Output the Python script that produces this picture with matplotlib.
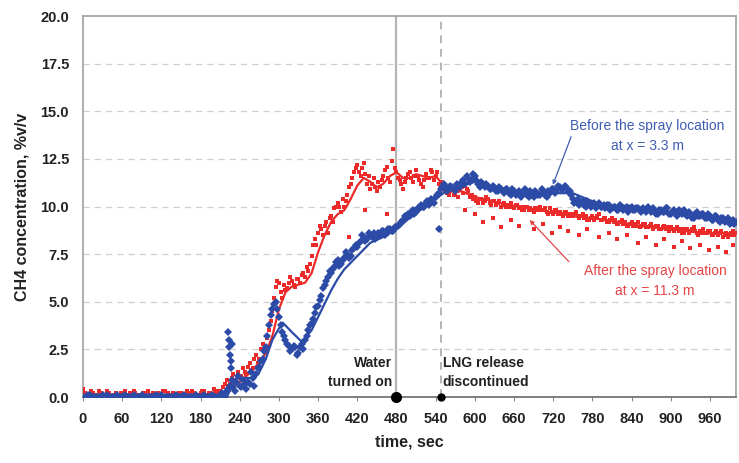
import numpy as np
import matplotlib
matplotlib.use("Agg")
import matplotlib.pyplot as plt

plt.rcParams['font.family'] = ['Liberation Sans', 'DejaVu Sans']

# measured CH4 readings, two interleaved sample sets (every 5 s, offset by 2.5 s)
t_a = np.arange(0, 1001, 5)
t_b = np.arange(2.5, 1000, 5)

blue_a = [
    0.0, 0.0, 0.1, 0.0, 0.0, 0.0, 0.1, 0.0, 0.0, 0.0,
    0.0, 0.0, 0.0, 0.1, 0.0, 0.0, 0.0, 0.0, 0.1, 0.0,
    0.0, 0.0, 0.0, 0.0, 0.1, 0.0, 0.0, 0.0, 0.0, 0.0,
    0.0, 0.1, 0.0, 0.0, 0.0, 0.0, 0.0, 0.1, 0.0, 0.0,
    0.0, 0.0, 0.0, 0.1, 0.3, 0.6, 0.5, 0.8, 0.6, 0.9,
    0.4, 0.7, 1.0, 1.2, 1.6, 2.0, 2.6, 3.8, 4.6, 5.0,
    4.2, 3.4, 3.0, 2.7, 2.5, 2.6, 2.3, 2.8, 3.0, 3.5,
    3.9, 4.4, 4.8, 5.3, 5.9, 6.3, 6.5, 6.8, 7.2, 7.0,
    7.3, 7.5, 7.4, 7.8, 7.9, 8.2, 8.4, 8.3, 8.5, 8.6,
    8.4, 8.5, 8.7, 8.6, 8.8, 8.7, 8.9, 9.1, 9.3, 9.4,
    9.5, 9.8, 9.7, 9.9, 10.0, 10.2, 10.1, 10.3, 10.5, 10.7,
    11.0, 11.1, 10.9, 11.0, 10.8, 11.1, 11.3, 11.2, 11.5, 11.4,
    11.6, 11.2, 11.3, 11.0, 11.1, 10.9, 11.0, 10.8, 10.9, 10.7,
    10.9, 10.6, 10.8, 10.7, 10.5, 10.7, 10.6, 10.8, 10.5, 10.7,
    10.6, 10.8, 10.5, 10.7, 10.9, 10.8, 11.0, 10.9, 11.0, 10.8,
    10.4, 10.3, 10.1, 10.3, 10.0, 10.2, 10.1, 9.9, 10.2, 10.0,
    9.9, 10.1, 9.9, 10.0, 9.8, 10.0, 9.9, 9.7, 10.0, 9.8,
    9.9, 9.7, 9.8, 10.0, 9.7, 9.8, 9.6, 9.8, 9.7, 9.9,
    9.6, 9.8, 9.5, 9.7, 9.8, 9.5, 9.6, 9.4, 9.7, 9.5,
    9.6, 9.4, 9.5, 9.3, 9.5, 9.2, 9.4, 9.3, 9.1, 9.3,
    9.2,
]

blue_b = [
    0.0, 0.1, 0.0, 0.0, 0.0, 0.0, 0.0, 0.1, 0.0, 0.0,
    0.1, 0.0, 0.0, 0.0, 0.0, 0.1, 0.0, 0.0, 0.0, 0.0,
    0.0, 0.0, 0.1, 0.0, 0.0, 0.0, 0.0, 0.0, 0.1, 0.0,
    0.0, 0.0, 0.0, 0.0, 0.1, 0.0, 0.0, 0.0, 0.0, 0.1,
    0.0, 0.0, 0.2, 0.0, 0.4, 0.9, 0.3, 1.1, 0.5, 0.7,
    0.8, 1.3, 0.6, 1.5, 1.9, 2.4, 3.2, 4.3, 4.9, 4.6,
    3.8, 3.2, 2.8, 2.4, 2.7, 2.2, 2.6, 2.5, 3.2, 3.8,
    4.1, 4.7, 5.1, 5.7, 6.1, 6.6, 6.7, 7.1, 6.9, 7.2,
    7.6, 7.3, 7.7, 8.0, 8.1, 8.5, 8.2, 8.6, 8.4, 8.3,
    8.6, 8.7, 8.5, 8.8, 8.7, 8.9, 9.0, 9.2, 9.5, 9.6,
    9.7, 9.6, 9.9, 10.1, 10.0, 10.3, 10.4, 10.2, 10.6, 10.9,
    11.2, 10.8, 11.1, 10.9, 11.2, 11.0, 11.4, 11.6, 11.3, 11.7,
    11.4, 11.0, 11.2, 11.2, 10.9, 11.1, 10.8, 11.0, 10.8, 10.9,
    10.7, 10.9, 10.6, 10.8, 10.7, 10.9, 10.5, 10.6, 10.8, 10.6,
    10.9, 10.6, 10.8, 10.9, 10.7, 11.1, 10.9, 11.1, 10.8, 10.6,
    10.2, 10.4, 10.2, 10.1, 10.3, 10.0, 10.2, 10.1, 10.0, 10.1,
    10.1, 9.8, 10.0, 9.8, 10.1, 9.8, 10.0, 9.9, 9.8, 9.9,
    9.8, 9.9, 9.7, 9.8, 9.9, 9.6, 9.8, 9.7, 9.9, 9.6,
    9.7, 9.6, 9.8, 9.6, 9.6, 9.7, 9.4, 9.6, 9.5, 9.6,
    9.4, 9.6, 9.3, 9.5, 9.3, 9.4, 9.2, 9.4, 9.2, 9.1,
]

red_a = [
    0.4, 0.1, 0.0, 0.2, 0.1, 0.3, 0.0, 0.1, 0.2, 0.0,
    0.2, 0.1, 0.0, 0.3, 0.1, 0.0, 0.2, 0.1, 0.0, 0.2,
    0.3, 0.1, 0.0, 0.2, 0.1, 0.3, 0.2, 0.0, 0.1, 0.0,
    0.2, 0.1, 0.3, 0.1, 0.2, 0.0, 0.2, 0.3, 0.1, 0.2,
    0.4, 0.1, 0.3, 0.5, 0.9, 0.7, 1.2, 0.8, 1.0, 1.5,
    1.2, 1.8, 1.5, 2.2, 2.0, 2.8, 2.6, 3.5, 4.5, 5.8,
    6.0, 5.2, 5.6, 6.0, 6.1, 5.8, 6.2, 6.4, 6.3, 6.6,
    7.4, 8.3, 8.6, 8.8, 9.0, 8.6, 9.5, 9.9, 10.2, 9.7,
    10.0, 10.6, 11.2, 11.8, 12.2, 11.6, 12.3, 11.2, 10.9, 11.5,
    10.8, 11.0, 11.6, 12.1, 11.3, 13.0, 11.8, 11.4, 10.9, 11.5,
    11.8, 11.3, 11.9, 11.4, 11.0, 11.7, 11.5, 11.8, 11.6, 11.2,
    11.0, 10.8, 10.6, 10.9, 10.7, 10.5, 11.0, 11.1, 10.8, 10.6,
    10.5, 10.2, 10.4, 10.3, 10.4, 10.1, 10.3, 10.2, 10.0, 10.2,
    10.1, 10.2, 9.9, 10.1, 10.0, 9.8, 10.0, 9.9, 9.7, 9.9,
    10.0, 9.8, 9.7, 9.9, 9.6, 9.8, 9.7, 9.5, 9.7, 9.6,
    9.5, 9.7, 9.4, 9.6, 9.5, 9.3, 9.5, 9.4, 9.6, 9.3,
    9.4, 9.2, 9.4, 9.3, 9.1, 9.3, 9.2, 9.0, 9.2, 9.1,
    9.2, 9.0, 9.1, 8.9, 9.1, 8.9, 9.0, 8.8, 9.0, 8.9,
    8.9, 8.7, 8.9, 8.8, 8.6, 8.8, 8.7, 8.9, 8.6, 8.7,
    8.8, 8.6, 8.7, 8.5, 8.7, 8.6, 8.4, 8.6, 8.5, 8.7,
    8.6,
]

red_b = [
    0.2, 0.0, 0.3, 0.1, 0.0, 0.2, 0.1, 0.3, 0.0, 0.1,
    0.0, 0.2, 0.1, 0.0, 0.2, 0.3, 0.0, 0.1, 0.2, 0.0,
    0.1, 0.2, 0.0, 0.1, 0.3, 0.0, 0.1, 0.2, 0.0, 0.2,
    0.1, 0.0, 0.2, 0.3, 0.0, 0.1, 0.3, 0.1, 0.2, 0.1,
    0.2, 0.3, 0.1, 0.7, 0.6, 1.0, 0.9, 1.3, 1.1, 1.3,
    1.6, 1.4, 2.0, 1.8, 2.5, 2.4, 3.1, 4.0, 5.2, 6.1,
    5.5, 5.9, 5.7, 6.3, 5.9, 6.2, 6.0, 6.5, 6.8, 7.0,
    8.0, 8.0, 9.0, 8.5, 9.2, 9.4, 9.2, 10.0, 10.0, 10.4,
    10.3, 11.0, 11.5, 12.0, 11.8, 12.0, 11.7, 11.6, 11.2, 11.0,
    11.3, 11.4, 11.9, 11.5, 12.4, 12.0, 11.5, 11.2, 11.3, 11.7,
    11.5, 11.6, 11.6, 11.2, 11.4, 11.5, 11.9, 11.4, 11.8, 11.3,
    10.9, 10.7, 10.8, 10.6, 10.8, 10.9, 10.7, 10.9, 10.5, 10.4,
    10.3, 10.4, 10.2, 10.5, 10.2, 10.3, 10.1, 10.3, 10.1, 10.0,
    10.0, 10.0, 10.1, 9.9, 9.8, 10.0, 9.8, 9.8, 9.9, 9.8,
    9.8, 9.9, 9.6, 9.7, 9.8, 9.6, 9.6, 9.7, 9.5, 9.5,
    9.6, 9.5, 9.5, 9.4, 9.3, 9.4, 9.3, 9.5, 9.3, 9.4,
    9.2, 9.3, 9.2, 9.1, 9.2, 9.1, 9.0, 9.1, 9.0, 9.0,
    8.9, 9.1, 8.9, 9.0, 8.8, 9.0, 8.8, 8.9, 8.8, 8.7,
    8.8, 8.8, 8.7, 8.6, 8.8, 8.6, 8.8, 8.7, 8.5, 8.6,
    8.6, 8.7, 8.5, 8.6, 8.5, 8.7, 8.5, 8.4, 8.6, 8.5,
]

# stray readings off the main band
blue_extra_t = [222, 223, 224, 225, 226, 227, 228, 545]
blue_extra_v = [3.4, 3.0, 2.6, 2.2, 1.9, 1.5, 2.8, 8.8]

red_extra_t = [408, 432, 465, 585, 600, 612, 628, 640, 655, 668, 690, 705, 718,
               730, 742, 760, 772, 790, 805, 818, 833, 850, 862, 878, 890, 905,
               918, 930, 945, 958, 972, 985, 995]
red_extra_v = [8.4, 9.8, 9.6, 9.8, 9.6, 9.2, 9.4, 8.9, 9.3, 9.0, 8.8, 9.1, 8.6,
               8.9, 8.7, 8.5, 8.8, 8.4, 8.6, 8.3, 8.5, 8.1, 8.4, 8.0, 8.3, 7.9,
               8.2, 7.8, 8.0, 7.7, 7.9, 7.6, 8.0]

# smoothed curves
red_line_t = [0, 210, 220, 240, 260, 280, 290, 300, 310, 320,
              340, 350, 360, 370, 380, 390, 400, 410, 420, 430,
              440, 450, 460, 470, 480, 490, 500, 510, 520, 530,
              540, 550, 560, 570, 580, 600, 650, 700, 750, 800,
              850, 900, 950, 1000]
red_line_v = [0, 0, 0.3, 0.8, 1.4, 2.3, 3.2, 4.6, 5.5, 5.8,
              6.0, 6.5, 7.6, 8.5, 9.2, 9.6, 9.8, 10.4, 11.1, 11.5,
              11.3, 11.0, 11.2, 11.6, 11.8, 11.5, 11.5, 11.7, 11.6, 11.5,
              11.6, 11.2, 10.9, 10.8, 10.8, 10.5, 10.1, 9.8, 9.5, 9.3,
              9.0, 8.8, 8.6, 8.6]

blue_line_t = [0, 220, 235, 260, 270, 280, 290, 300, 306, 320,
               335, 350, 360, 370, 380, 390, 400, 420, 440, 460,
               480, 500, 520, 540, 560, 580, 600, 650, 700, 750,
               800, 850, 900, 950, 1000]
blue_line_v = [0, 0, 1.0, 1.0, 1.3, 2.0, 3.0, 3.6, 3.9, 3.4,
               2.9, 3.5, 4.2, 4.9, 5.6, 6.2, 6.7, 7.4, 8.1, 8.4,
               8.8, 9.4, 9.9, 10.4, 10.9, 11.1, 11.3, 10.8, 10.7, 10.7,
               10.0, 9.8, 9.7, 9.5, 9.2]

water_on = 480
lng_off = 548
x_ticks = list(range(0, 961, 60))
y_ticks = [0.0, 2.5, 5.0, 7.5, 10.0, 12.5, 15.0, 17.5, 20.0]

BLUE = '#2c4ba6'
RED = '#ec2a2a'

fig = plt.figure(figsize=(7.39, 4.63), dpi=100)
ax = fig.add_axes([0.1123, 0.1425, 0.8837, 0.8229])

ax.set_xlim(0, 1000)
ax.set_ylim(0, 20)

for yv in y_ticks[1:-1]:
    ax.axhline(yv, color='#cfcfcf', lw=0.9, ls=(0, (5, 4)), zorder=0)

ax.axvline(water_on, color='#b5b5b5', lw=1.6, zorder=1)
ax.axvline(lng_off, color='#b5b5b5', lw=1.4, ls=(0, (4, 3)), zorder=1)

red_style = dict(ls='none', marker='s', ms=2.8, mew=0, color=RED, zorder=3)
blue_style = dict(ls='none', marker='D', ms=3.8, mew=0, color=BLUE, zorder=5)

ax.plot(red_line_t, red_line_v, color=RED, lw=1.6, zorder=2)
ax.plot(t_a, red_a, **red_style)
ax.plot(t_b, red_b, **red_style)
ax.plot(red_extra_t, red_extra_v, **red_style)

ax.plot(blue_line_t, blue_line_v, color=BLUE, lw=1.6, zorder=4)
ax.plot(t_a, blue_a, **blue_style)
ax.plot(t_b, blue_b, **blue_style)
ax.plot(blue_extra_t, blue_extra_v, **blue_style)

ax.plot([water_on], [0], 'o', color='black', ms=7, zorder=7, clip_on=False)
ax.plot([lng_off], [0], 'o', color='black', ms=5, zorder=7, clip_on=False)

ax.text(water_on - 7, 1.3, 'Water\nturned on', ha='right', va='center',
        multialignment='right', fontsize=10, fontweight='bold', color='#222222',
        linespacing=1.45)
ax.text(lng_off + 3, 1.3, 'LNG release\ndiscontinued', ha='left', va='center',
        multialignment='left', fontsize=10, fontweight='bold', color='#222222',
        linespacing=1.45)

ax.text(864, 13.7, 'Before the spray location\nat x = 3.3 m', ha='center', va='center',
        fontsize=10, color='#3f5cb0', linespacing=1.5)
ax.annotate('', xy=(718, 11.0), xytext=(749, 13.8),
            arrowprops=dict(arrowstyle='-|>', color='#3f5cb0', lw=0.9, mutation_scale=6))

ax.text(876, 6.1, 'After the spray location\nat x = 11.3 m', ha='center', va='center',
        fontsize=10, color='#e44545', linespacing=1.5)
ax.annotate('', xy=(681, 9.4), xytext=(747, 7.0),
            arrowprops=dict(arrowstyle='-|>', color='#e44545', lw=0.9, mutation_scale=6))

ax.set_xticks(x_ticks)
ax.set_yticks(y_ticks)
ax.set_yticklabels(['%.1f' % v for v in y_ticks])
ax.tick_params(axis='both', labelsize=10.5, colors='#8a8a8a', labelcolor='#222222',
               length=3, width=0.8)
ax.tick_params(axis='y', length=0, pad=10)
ax.tick_params(axis='x', pad=8)
for lab in ax.get_xticklabels() + ax.get_yticklabels():
    lab.set_fontweight('bold')

for side in ['left', 'top', 'right']:
    ax.spines[side].set_color('#a0a0a0')
    ax.spines[side].set_linewidth(1.2)
ax.spines['bottom'].set_color('#6a6a6a')
ax.spines['bottom'].set_linewidth(1.2)

ax.set_xlabel('time, sec', fontsize=11.5, fontweight='bold', color='#222222', labelpad=6)
ax.set_ylabel('CH4 concentration, %v/v', fontsize=11.5, fontweight='bold',
              color='#222222', labelpad=8)

fig.savefig('out.png', dpi=100)
